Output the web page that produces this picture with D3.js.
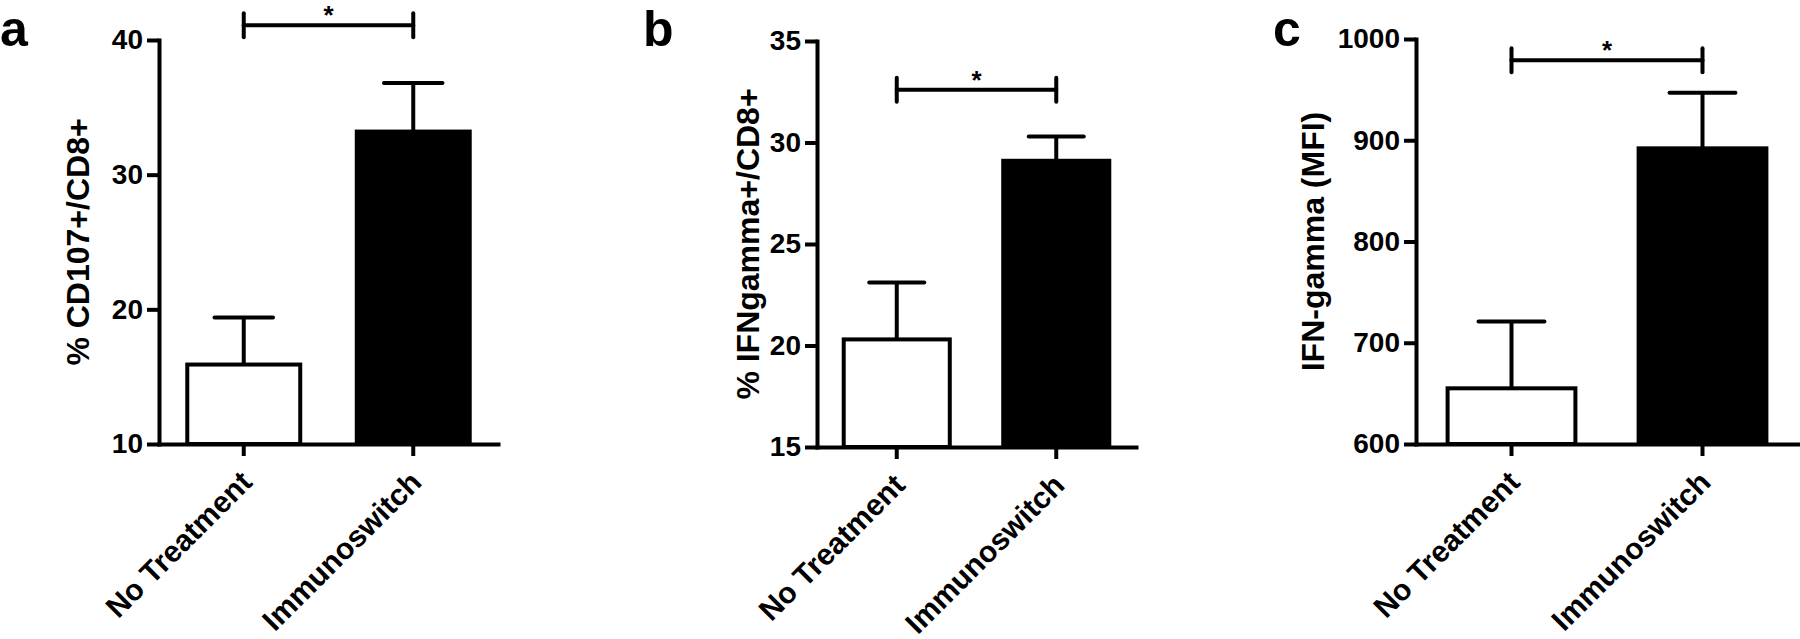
<!DOCTYPE html>
<html>
<head>
<meta charset="utf-8">
<script src="https://cdn.jsdelivr.net/npm/d3@7"></script>
<style>
  body { margin: 0; background: #fff; }
  text { font-family: Arial, "Liberation Sans", sans-serif; font-weight: bold; fill: #000; }
</style>
</head>
<body>
<script>
// values
const categories = ["No Treatment", "Immunoswitch"];
const panelLetters = ["a", "b", "c"];
const yTitles = ["% CD107+/CD8+", "% IFNgamma+/CD8+", "IFN-gamma (MFI)"];
const yDomains = [[10, 40], [15, 35], [600, 1000]];
const yTicks = [[10, 20, 30, 40], [15, 20, 25, 30, 35], [600, 700, 800, 900, 1000]];
const means = [[15.9, 33.2], [20.3, 29.1], [655, 892]];
const errors = [[3.5, 3.6], [2.8, 1.2], [66, 55]];
const bracketLevels = [41.1, 32.6, 979];
const bracketLabels = ["*", "*", "*"];
const fills = ["#fff", "#000"];

// panel placement in the 1800x639 page
const layout = [
    { x0: 159, x1: 498, top: 40, bottom: 444, letterX: 0, titleOff: 81 },
    { x0: 817, x1: 1136, top: 41, bottom: 447, letterX: 643, titleOff: 69 },
    { x0: 1416, x1: 1798, top: 39, bottom: 444, letterX: 1273, titleOff: 103 }
];

const svg = d3.select("body")
    .append("svg")
    .attr("width", 1800)
    .attr("height", 639);

layout.forEach((p, k) => {
    const g = svg.append("g");

    const x = d3.scaleBand().domain(categories).range([p.x0, p.x1])
        .paddingInner(0.31).paddingOuter(0.155);
    const y = d3.scaleLinear().domain(yDomains[k]).range([p.bottom, p.top]);
    const bw = x.bandwidth();

    // bars
    g.selectAll("rect.bar")
        .data(categories)
        .join("rect")
        .attr("class", "bar")
        .attr("x", d => x(d) + 2)
        .attr("width", bw - 4)
        .attr("y", (d, i) => y(means[k][i]))
        .attr("height", (d, i) => p.bottom - y(means[k][i]))
        .attr("fill", (d, i) => fills[i])
        .attr("stroke", "#000")
        .attr("stroke-width", 4);

    // error bars (upper only)
    categories.forEach((c, i) => {
        const cx = x(c) + bw / 2;
        const yt = y(means[k][i] + errors[k][i]);
        g.append("line")
            .attr("x1", cx).attr("x2", cx)
            .attr("y1", y(means[k][i])).attr("y2", yt)
            .attr("stroke", "#000").attr("stroke-width", 4);
        g.append("line")
            .attr("x1", cx - bw * 0.25).attr("x2", cx + bw * 0.25)
            .attr("y1", yt).attr("y2", yt)
            .attr("stroke", "#000").attr("stroke-width", 4)
            .attr("stroke-linecap", "round");
    });

    // axes
    const yAxis = g.append("g")
        .attr("transform", `translate(${p.x0},0)`)
        .call(d3.axisLeft(y).tickValues(yTicks[k]).tickFormat(d3.format("d"))
            .tickSize(12).tickSizeOuter(0).tickPadding(4));
    const xAxis = g.append("g")
        .attr("transform", `translate(0,${p.bottom})`)
        .call(d3.axisBottom(x).tickSize(12).tickSizeOuter(0).tickFormat(""));
    [yAxis, xAxis].forEach(a => {
        a.select(".domain").attr("stroke-width", 4).attr("stroke-linecap", "square");
        a.selectAll(".tick line").attr("stroke-width", 4);
    });
    yAxis.selectAll(".tick text")
        .attr("font-size", 28)
        .attr("font-family", "Arial, 'Liberation Sans', sans-serif")
        .attr("font-weight", "bold");

    // category labels, rotated
    g.selectAll("text.cat")
        .data(categories)
        .join("text")
        .attr("class", "cat")
        .attr("text-anchor", "end")
        .attr("font-size", 30)
        .attr("transform", d => `translate(${x(d) + bw / 2 + 10},${p.bottom + 40}) rotate(-45)`)
        .text(d => d);

    // y title
    g.append("text")
        .attr("text-anchor", "middle")
        .attr("font-size", 32)
        .attr("dy", "0.35em")
        .attr("transform", `translate(${p.x0 - p.titleOff},${(p.top + p.bottom) / 2}) rotate(-90)`)
        .text(yTitles[k]);

    // panel letter
    g.append("text")
        .attr("x", p.letterX)
        .attr("y", 46)
        .attr("font-size", 50)
        .text(panelLetters[k]);

    // significance bracket
    const bx1 = x(categories[0]) + bw / 2;
    const bx2 = x(categories[1]) + bw / 2;
    const by = y(bracketLevels[k]);
    const br = g.append("g")
        .attr("stroke", "#000").attr("stroke-width", 4).attr("stroke-linecap", "round");
    br.append("line").attr("x1", bx1).attr("x2", bx2).attr("y1", by).attr("y2", by);
    br.append("line").attr("x1", bx1).attr("x2", bx1).attr("y1", by - 12).attr("y2", by + 12);
    br.append("line").attr("x1", bx2).attr("x2", bx2).attr("y1", by - 12).attr("y2", by + 12);
    g.append("text")
        .attr("x", (bx1 + bx2) / 2)
        .attr("y", by - 1)
        .attr("text-anchor", "middle")
        .attr("font-size", 26)
        .text(bracketLabels[k]);
});
</script>
</body>
</html>
